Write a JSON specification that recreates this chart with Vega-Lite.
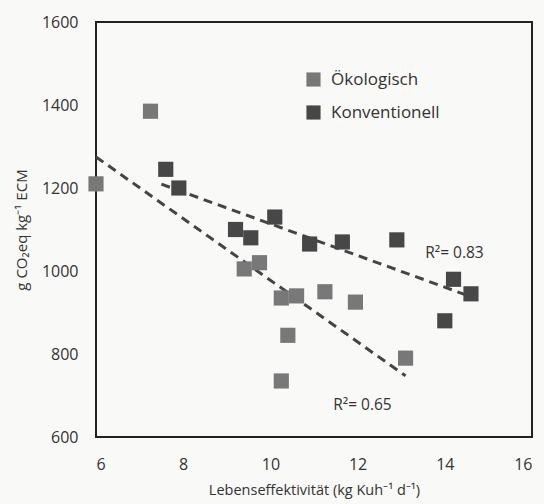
{
  "$schema": "https://vega.github.io/schema/vega-lite/v6.json",
  "autosize": "none",
  "width": 436,
  "height": 415,
  "padding": {"left": 96, "top": 22, "right": 12, "bottom": 67},
  "background": "#f9f9f7",
  "config": {
    "view": {"stroke": "#222222", "strokeWidth": 2},
    "font": "Open Sans",
    "axis": {"grid": false, "ticks": false, "domain": false, "labelFont": "Open Sans", "titleFont": "Open Sans", "labelColor": "#333333", "titleColor": "#333333", "titleFontWeight": "normal"}
  },
  "datasets": {
    "pts": [
      {"x": 6.0, "y": 1210, "group": "Ökologisch"},
      {"x": 7.25, "y": 1385, "group": "Ökologisch"},
      {"x": 9.4, "y": 1005, "group": "Ökologisch"},
      {"x": 9.75, "y": 1020, "group": "Ökologisch"},
      {"x": 10.25, "y": 935, "group": "Ökologisch"},
      {"x": 10.6, "y": 940, "group": "Ökologisch"},
      {"x": 11.25, "y": 950, "group": "Ökologisch"},
      {"x": 11.95, "y": 925, "group": "Ökologisch"},
      {"x": 10.4, "y": 845, "group": "Ökologisch"},
      {"x": 10.25, "y": 735, "group": "Ökologisch"},
      {"x": 13.1, "y": 790, "group": "Ökologisch"},
      {"x": 7.6, "y": 1245, "group": "Konventionell"},
      {"x": 7.9, "y": 1200, "group": "Konventionell"},
      {"x": 9.2, "y": 1100, "group": "Konventionell"},
      {"x": 9.55, "y": 1080, "group": "Konventionell"},
      {"x": 10.1, "y": 1130, "group": "Konventionell"},
      {"x": 10.9, "y": 1065, "group": "Konventionell"},
      {"x": 11.65, "y": 1070, "group": "Konventionell"},
      {"x": 12.9, "y": 1075, "group": "Konventionell"},
      {"x": 14.2, "y": 980, "group": "Konventionell"},
      {"x": 14.6, "y": 945, "group": "Konventionell"},
      {"x": 14.0, "y": 880, "group": "Konventionell"}
    ],
    "labels": [
      {"x": 13.55, "y": 1043, "text": "R²= 0.83"},
      {"x": 11.44, "y": 677, "text": "R²= 0.65"}
    ]
  },
  "layer": [
    {
      "data": {"name": "pts"},
      "transform": [
        {"filter": "datum.group === 'Konventionell'"},
        {"regression": "y", "on": "x", "extent": [7.5, 14.6]}
      ],
      "mark": {"type": "line", "color": "#444444", "strokeWidth": 3, "strokeDash": [9, 6]},
      "encoding": {
        "x": {"field": "x", "type": "quantitative"},
        "y": {"field": "y", "type": "quantitative"}
      }
    },
    {
      "data": {"name": "pts"},
      "transform": [
        {"filter": "datum.group === 'Ökologisch'"},
        {"regression": "y", "on": "x", "extent": [6.0, 13.1]}
      ],
      "mark": {"type": "line", "color": "#444444", "strokeWidth": 3, "strokeDash": [9, 6]},
      "encoding": {
        "x": {"field": "x", "type": "quantitative"},
        "y": {"field": "y", "type": "quantitative"}
      }
    },
    {
      "data": {"name": "pts"},
      "mark": {"type": "square", "opacity": 1, "size": 230},
      "encoding": {
        "x": {
          "field": "x", "type": "quantitative",
          "scale": {"domain": [6, 16], "nice": false, "zero": false},
          "axis": {"values": [6, 8, 10, 12, 14, 16], "format": "d", "labelFontSize": 16, "labelPadding": 19, "title": "Lebenseffektivität (kg Kuh⁻¹ d⁻¹)", "titleFontSize": 14.5, "titlePadding": 11}
        },
        "y": {
          "field": "y", "type": "quantitative",
          "scale": {"domain": [600, 1600], "nice": false, "zero": false},
          "axis": {"values": [600, 800, 1000, 1200, 1400, 1600], "format": "d", "labelFontSize": 16, "labelPadding": 18, "title": "g CO₂eq kg⁻¹ ECM", "titleFontSize": 15, "titlePadding": 12}
        },
        "color": {
          "field": "group", "type": "nominal",
          "scale": {"domain": ["Ökologisch", "Konventionell"], "range": ["#787878", "#474747"]},
          "legend": {"title": null, "orient": "none", "legendX": 209, "legendY": 49, "symbolType": "square", "symbolSize": 200, "symbolStrokeWidth": 0, "labelFontSize": 17, "labelColor": "#333333", "labelFont": "Open Sans", "rowPadding": 15, "labelOffset": 9}
        }
      }
    },
    {
      "data": {"name": "labels"},
      "mark": {"type": "text", "align": "left", "baseline": "middle", "fontSize": 15.5, "color": "#333333", "font": "Open Sans"},
      "encoding": {
        "x": {"field": "x", "type": "quantitative"},
        "y": {"field": "y", "type": "quantitative"},
        "text": {"field": "text"}
      }
    }
  ]
}
